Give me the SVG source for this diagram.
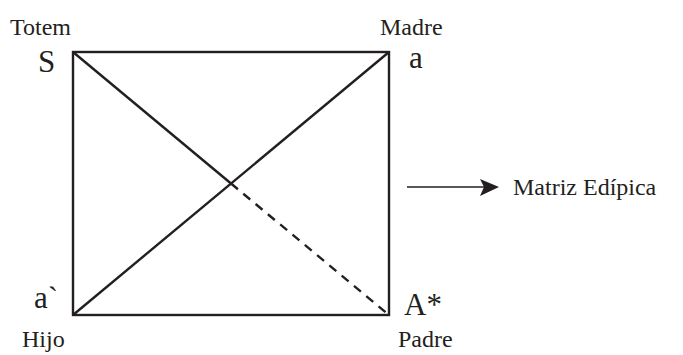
<svg xmlns="http://www.w3.org/2000/svg" width="683" height="355" viewBox="0 0 683 355">
<style>
.lbl{font-family:"Liberation Serif","Times New Roman",serif;font-size:24px;fill:#231f20}
.var{font-family:"Liberation Serif","Times New Roman",serif;font-size:31px;fill:#231f20}
.ln{stroke:#231f20;stroke-width:2.4;fill:none}
</style>
<rect width="683" height="355" fill="#fff"/>
<g id="square">
<rect class="ln" x="73" y="52" width="316" height="263"/>
</g>
<g id="connectors">
<line class="ln" x1="73" y1="315" x2="389" y2="52"/>
<line class="ln" x1="73" y1="52" x2="231" y2="183.5"/>
<line class="ln" x1="231" y1="183.5" x2="389" y2="315" stroke-dasharray="9 7"/>
<line x1="407" y1="187" x2="484" y2="187" stroke="#231f20" stroke-width="1.3"/>
<polygon points="499,187 480,179 484,187 480,196" fill="#231f20"/>
</g>
<g id="node-totem"><text class="lbl" x="10" y="35">Totem</text><text class="var" x="38" y="72">S</text></g>
<g id="node-madre"><text class="lbl" x="380" y="35">Madre</text><text class="var" x="409" y="68">a</text></g>
<g id="node-hijo"><text class="var" x="34" y="308">a`</text><text class="lbl" x="22" y="347">Hijo</text></g>
<g id="node-padre"><text class="var" x="404" y="315">A*</text><text class="lbl" x="398" y="347">Padre</text></g>
<g id="node-matriz"><text class="lbl" x="513" y="195">Matriz Edípica</text></g>
</svg>
